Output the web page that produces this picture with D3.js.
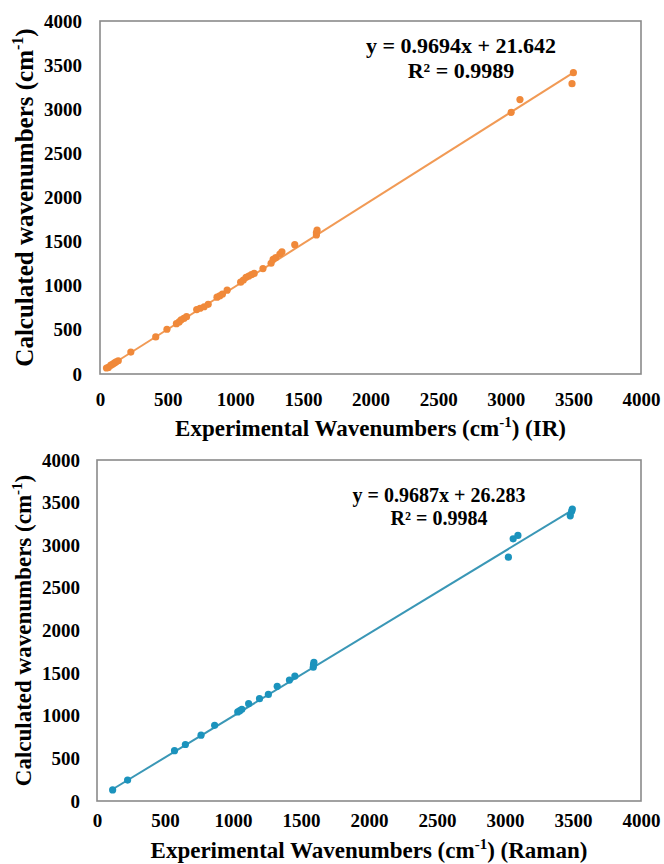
<!DOCTYPE html>
<html>
<head>
<meta charset="utf-8">
<script src="https://cdn.jsdelivr.net/npm/d3@7"></script>
<style>
  body { margin: 0; background: #fff; }
  text { font-family: "Liberation Serif", "Times New Roman", serif; font-weight: bold; fill: #000; }
</style>
</head>
<body>
<div id="chart"></div>
<script>

// shared axis ticks
var axisTicks = [0, 500, 1000, 1500, 2000, 2500, 3000, 3500, 4000];

// IR: experimental vs calculated wavenumbers
var irExp  = [48, 62, 80, 95, 108, 120, 135, 228, 412, 495, 565, 585, 600, 620, 640, 715, 740, 770, 800,
              865, 885, 905, 940, 1040, 1060, 1080, 1100, 1120, 1140, 1205, 1265, 1280, 1300, 1330, 1345,
              1440, 1600, 1600, 1605, 3040, 3105, 3490, 3500];
var irCalc = [68, 75, 100, 112, 125, 138, 150, 248, 420, 507, 570, 590, 615, 630, 650, 730, 745, 762, 790,
              870, 885, 905, 950, 1040, 1065, 1095, 1110, 1125, 1140, 1195, 1255, 1300, 1320, 1360, 1385,
              1465, 1575, 1600, 1630, 2965, 3110, 3290, 3415];
var irFit = ["0.9694", "21.642", "0.9989"];

// Raman: experimental vs calculated wavenumbers
var ramanExp  = [115, 225, 570, 650, 765, 865, 1035, 1050, 1065, 1115, 1195, 1260, 1325, 1415, 1455,
                 1590, 1592, 1595, 3025, 3060, 3095, 3480, 3490, 3495];
var ramanCalc = [130, 245, 590, 663, 772, 888, 1045, 1060, 1075, 1142, 1200, 1250, 1345, 1418, 1465,
                 1570, 1600, 1625, 2860, 3075, 3115, 3345, 3400, 3425];
var ramanFit = ["0.9687", "26.283", "0.9984"];


ScatterFit = function(_svg, _x, _y, _fit, _opts){
    this.svg = _svg;
    this.xs = _x;
    this.ys = _y;
    this.fit = _fit;
    this.opts = _opts;

    this.initVis();
}

ScatterFit.prototype.initVis = function() {
    var vis = this;
    var o = vis.opts;

    vis.x = d3.scaleLinear().domain([0, 4000]).range([o.left, o.right]);
    vis.y = d3.scaleLinear().domain([0, 4000]).range([o.bottom, o.top]);

    vis.g = vis.svg.append("g");

    // plot frame
    vis.g.append("rect")
      .attr("x", o.left)
      .attr("y", o.top)
      .attr("width", o.right - o.left)
      .attr("height", o.bottom - o.top)
      .attr("fill", "none")
      .attr("stroke", "#8a8a8a")
      .attr("stroke-width", 1.6);

    // axes, labels only
    vis.g.append("g")
      .attr("transform", "translate(0," + o.bottom + ")")
      .call(d3.axisBottom(vis.x).tickValues(axisTicks).tickFormat(d3.format("d")).tickSize(0).tickPadding(o.xPad))
      .call(function(g){ g.select(".domain").remove(); })
      .selectAll("text")
      .style("font-size", o.tickSize + "px")
      .style("font-family", null);

    vis.g.append("g")
      .attr("transform", "translate(" + o.left + ",0)")
      .call(d3.axisLeft(vis.y).tickValues(axisTicks).tickFormat(d3.format("d")).tickSize(0).tickPadding(o.yPad))
      .call(function(g){ g.select(".domain").remove(); })
      .selectAll("text")
      .style("font-size", o.tickSize + "px")
      .style("font-family", null);

    // trendline from the printed fit
    var slope = +vis.fit[0], icpt = +vis.fit[1];
    var x0 = d3.min(vis.xs), x1 = d3.max(vis.xs);
    vis.g.append("line")
      .attr("x1", vis.x(x0)).attr("y1", vis.y(slope*x0 + icpt))
      .attr("x2", vis.x(x1)).attr("y2", vis.y(slope*x1 + icpt))
      .attr("stroke", o.lineColor)
      .attr("stroke-width", 2);

    vis.g.append("g")
      .selectAll("circle")
      .data(d3.range(vis.xs.length))
      .enter()
      .append("circle")
      .attr("cx", function(i){ return vis.x(vis.xs[i]); })
      .attr("cy", function(i){ return vis.y(vis.ys[i]); })
      .attr("r", 3.6)
      .attr("fill", o.dotColor);

    // equation
    vis.g.append("text")
      .attr("x", o.eqX).attr("y", o.eqY)
      .attr("text-anchor", "middle")
      .style("font-size", o.eqSize + "px")
      .text("y = " + vis.fit[0] + "x + " + vis.fit[1]);
    vis.g.append("text")
      .attr("x", o.eqX).attr("y", o.eqY + o.eqGap)
      .attr("text-anchor", "middle")
      .style("font-size", o.eqSize + "px")
      .text("R\u00b2 = " + vis.fit[2]);

    // axis titles with superscript -1
    var xt = vis.g.append("text")
      .attr("x", (o.left + o.right)/2)
      .attr("y", o.xTitleY)
      .attr("text-anchor", "middle")
      .style("font-size", o.xTitleSize + "px");
    vis.supText(xt, "Experimental Wavenumbers (cm", ") " + o.xTag, o.xTitleSize);

    var yt = vis.g.append("text")
      .attr("transform", "translate(" + o.yTitleX + "," + (o.top + o.bottom)/2 + ") rotate(-90)")
      .attr("text-anchor", "middle")
      .style("font-size", o.yTitleSize + "px");
    vis.supText(yt, "Calculated wavenumbers (cm", ")", o.yTitleSize);
};

ScatterFit.prototype.supText = function(t, before, after, fs) {
    var up = Math.round(fs*0.4);
    t.append("tspan").text(before);
    t.append("tspan").attr("dy", -up).style("font-size", Math.round(fs*0.65) + "px").text("-1");
    t.append("tspan").attr("dy", up).text(after);
};


var svg = d3.select("#chart")
  .append("svg")
  .attr("width", 664)
  .attr("height", 864);

new ScatterFit(svg, irExp, irCalc, irFit, {
    left: 100, right: 641, top: 21, bottom: 374,
    xPad: 19, yPad: 18, tickSize: 19,
    dotColor: "#f0893a", lineColor: "#f19a55",
    eqX: 461, eqY: 53, eqGap: 25, eqSize: 22,
    xTitleY: 436, xTitleSize: 23, xTag: "(IR)",
    yTitleX: 33, yTitleSize: 25
});

new ScatterFit(svg, ramanExp, ramanCalc, ramanFit, {
    left: 97, right: 641, top: 460, bottom: 801,
    xPad: 13, yPad: 17, tickSize: 19,
    dotColor: "#1b93bd", lineColor: "#3a97b6",
    eqX: 439, eqY: 502, eqGap: 23, eqSize: 20,
    xTitleY: 858, xTitleSize: 23, xTag: "(Raman)",
    yTitleX: 31, yTitleSize: 23
});

</script>
</body>
</html>
